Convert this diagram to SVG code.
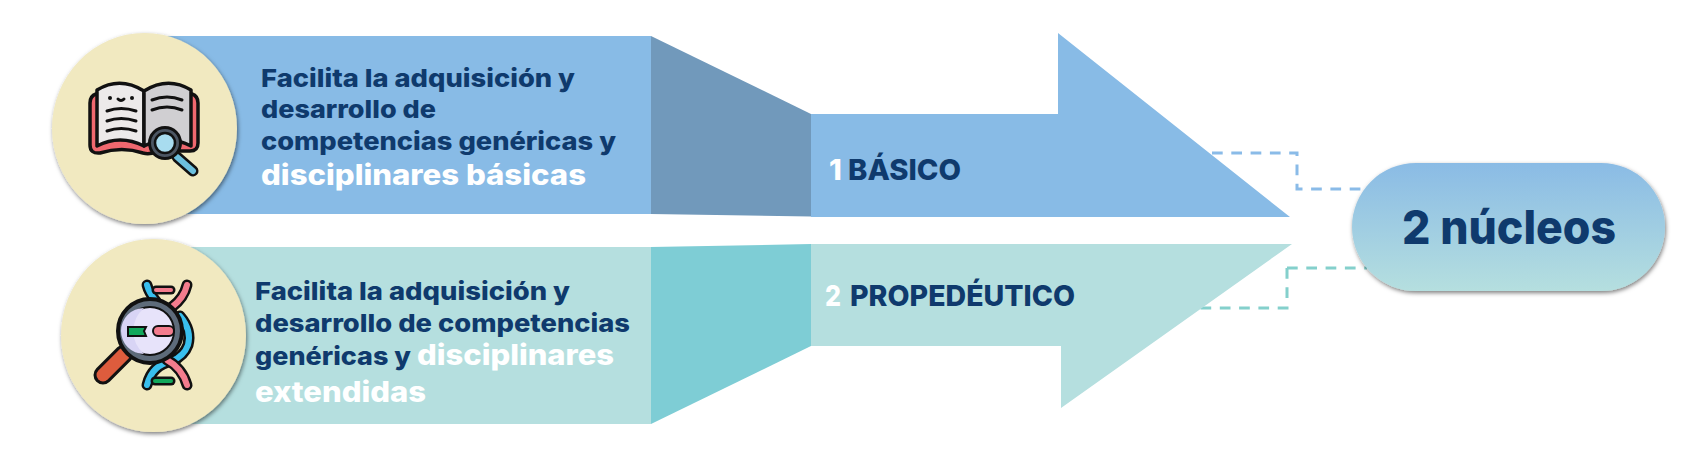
<svg xmlns="http://www.w3.org/2000/svg" width="1706" height="469" viewBox="0 0 1706 469">
<defs>
<linearGradient id="pill" x1="0" y1="0" x2="0" y2="1"><stop offset="0" stop-color="#8abbe5"/><stop offset="1" stop-color="#b5dfdf"/></linearGradient>
<filter id="sh" x="-20%" y="-20%" width="140%" height="140%"><feDropShadow dx="1" dy="2" stdDeviation="2" flood-color="#000" flood-opacity=".5"/></filter>
</defs>
<style>
text{font-family:"Inter","Open Sans","Liberation Sans",sans-serif;font-weight:800}
.d{fill:#0f3a6d}.w{fill:#fff}
.t{font-size:25px}.b{font-size:28px}.l{font-size:29px}
.dash{fill:none;stroke-width:3;stroke-dasharray:10.7 8.6}
.ln{fill:none;stroke:#111;stroke-width:3;stroke-linecap:round}
.ik{stroke:#111;stroke-width:3.500;stroke-linecap:round;stroke-linejoin:round}
.rd{fill:none;stroke-linecap:round}
</style>
<rect width="1706" height="469" fill="#fff"/>
<g id="connectors">
<path class="dash" stroke="#8abbe8" d="M1212 153H1297V189H1366"/>
<path class="dash" stroke="#84d0cc" d="M1287 268H1367M1287 268V308H1190"/>
</g>
<g id="nodo-basico">
<rect x="150" y="36" width="501" height="178" fill="#88bbe6"/>
<path d="M651 36L811 114V216.500L651 214Z" fill="#7199bb"/>
<path d="M811 114H1058V33L1290 217H811Z" fill="#88bbe6"/>
<text class="t d" x="261" y="87" textLength="314" lengthAdjust="spacingAndGlyphs">Facilita la adquisición y</text>
<text class="t d" x="261" y="118" textLength="175" lengthAdjust="spacingAndGlyphs">desarrollo de</text>
<text class="t d" x="261" y="150" textLength="355" lengthAdjust="spacingAndGlyphs">competencias genéricas y</text>
<text class="b w" x="261" y="185" textLength="325" lengthAdjust="spacingAndGlyphs">disciplinares básicas</text>
<text class="l w" x="829" y="180">1</text>
<text class="l d" x="848" y="180" textLength="113" lengthAdjust="spacingAndGlyphs">BÁSICO</text>
</g>
<g id="nodo-propedeutico">
<rect x="170" y="247" width="481" height="177" fill="#b5dfdf"/>
<path d="M651 247L811 244V346L651 424Z" fill="#7ecdd5"/>
<path d="M811 244H1292L1061 408V346H811Z" fill="#b5dfdf"/>
<text class="t d" x="255" y="300" textLength="315" lengthAdjust="spacingAndGlyphs">Facilita la adquisición y</text>
<text class="t d" x="255" y="332" textLength="375" lengthAdjust="spacingAndGlyphs">desarrollo de competencias</text>
<text class="t d" x="255" y="365" textLength="156" lengthAdjust="spacingAndGlyphs">genéricas y</text>
<text class="b w" x="417" y="365" textLength="197" lengthAdjust="spacingAndGlyphs">disciplinares</text>
<text class="b w" x="255" y="402" textLength="171" lengthAdjust="spacingAndGlyphs">extendidas</text>
<text class="l w" x="825" y="306" textLength="16" lengthAdjust="spacingAndGlyphs">2</text>
<text class="l d" x="850" y="306" textLength="225" lengthAdjust="spacingAndGlyphs">PROPEDÉUTICO</text>
</g>
<g id="icono-libro">
<ellipse cx="144.500" cy="128.500" rx="92.500" ry="95.500" fill="#f1e9c0" filter="url(#sh)"/>
<path class="ik" d="M96 94Q90 96 90 103V145Q90 154 100 153Q122 146 143 153Q150 155 158 151L190 151Q198 151 198 143V103Q198 96 192 94Z" fill="#f0686f"/>
<path class="ik" d="M97 90Q120 76 144 91V146Q120 134 97 146Z" fill="#eceaea"/>
<path class="ik" d="M144 91Q168 76 191 90V146Q168 134 144 146Z" fill="#d0cfd2"/>
<path class="ln" d="M107 111Q121 106 136 111M107 121Q121 116 136 121M107 131Q121 126 136 131M152 100Q167 94 182 100M152 110Q167 104 182 110M118 99Q121 102 124 99"/>
<circle cx="110" cy="98" r="2" fill="#111"/><circle cx="132" cy="98" r="2" fill="#111"/>
<path d="M177 157L193 171" stroke="#111" stroke-width="11" stroke-linecap="round"/>
<path d="M177 157L193 171" stroke="#6cc0de" stroke-width="6" stroke-linecap="round"/>
<circle cx="165" cy="143" r="15.500" fill="#4c5663" stroke="#111" stroke-width="3"/>
<circle cx="165" cy="143" r="10" fill="#a8dcef" stroke="#111" stroke-width="2.500"/>
</g>
<g id="icono-adn">
<ellipse cx="153.500" cy="335.500" rx="92.500" ry="96.500" fill="#f1e9c0" filter="url(#sh)"/>
<g class="rd">
<path d="M147 285Q149 293 156 301M180 316Q192 330 188 345Q184 356 172 361Q152 365 147 385" stroke="#111" stroke-width="11"/>
<path d="M147 285Q149 293 156 301M180 316Q192 330 188 345Q184 356 172 361Q152 365 147 385" stroke="#39bfee" stroke-width="6"/>
<path d="M187 285Q184 298 172 307M167 360Q182 368 187 385" stroke="#111" stroke-width="11"/>
<path d="M187 285Q184 298 172 307M167 360Q182 368 187 385" stroke="#f37c8d" stroke-width="6"/>
<path d="M156 290H171" stroke="#111" stroke-width="9"/><path d="M156 290H171" stroke="#f37c8d" stroke-width="4"/>
<path d="M155 381H171" stroke="#111" stroke-width="9"/><path d="M155 381H171" stroke="#12a85c" stroke-width="4"/>
<path d="M103 375L124 354" stroke="#111" stroke-width="19"/><path d="M103 375L124 354" stroke="#dd5c3d" stroke-width="13"/>
</g>
<circle cx="150" cy="331" r="31" fill="#e7e3fa" stroke="#111" stroke-width="6"/>
<circle cx="150" cy="331" r="27" fill="none" stroke="#5e6b7a" stroke-width="6"/>
<circle cx="150" cy="331" r="24" fill="none" stroke="#111" stroke-width="2"/>
<path d="M144 308A23 23 0 0 0 144 354A30 30 0 0 1 144 308Z" fill="#d8d4f5"/>
<path d="M128 327H146L144 331L146 336H128Z" fill="#12a85c" stroke="#111" stroke-width="2"/>
<rect x="153" y="326" width="21" height="10" rx="5" fill="#f37c8d" stroke="#111" stroke-width="2"/>
</g>
<g id="nucleos">
<rect x="1352" y="163" width="313" height="128" rx="64" fill="url(#pill)" filter="url(#sh)"/>
<text x="1402" y="244" class="d" font-size="47" textLength="214" lengthAdjust="spacingAndGlyphs">2 núcleos</text>
</g>
</svg>
